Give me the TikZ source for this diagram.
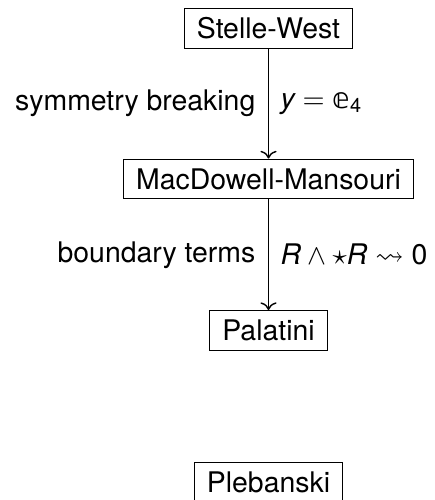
\documentclass[tikz,border=0pt]{standalone}
\usepackage{amsmath,amssymb}
\usepackage{fontspec}
\setmainfont{TeX Gyre Heros}
\newfontfamily\dstruck{DejaVu Sans}
\usetikzlibrary{positioning,arrows.meta}

\tikzset{
  theory/.style={draw, rectangle, inner xsep=4.4pt, inner ysep=3.4pt, text height=7.2pt, text depth=0pt},
  reduce/.style={->, line width=0.5pt},
  lbl/.style={inner sep=0pt},
}

\begin{document}
\begin{tikzpicture}[x=0.352pt, y=-0.352pt]
    \useasboundingbox (0,0) rectangle (434,500);

    % Theories
    \node [theory] (stelle) at (268.5,28.5) {Stelle-West};
    \node [theory] (macdowell) at (268.5,179) {MacDowell-Mansouri};
    \node [theory] (palatini) at (268.5,330.5) {Palatini};
    \node [theory] (plebanski) at (268.5,482) {Plebanski};

    % Reductions
    \draw [reduce] (stelle) -- node [lbl, left=4.4pt] (symbrk) {symmetry breaking}
        node [lbl, right=4pt] (gauge) {$\text{\itshape y} = \text{\dstruck 𝕖}_{\text{4}}$} (macdowell);
    \draw [reduce] (macdowell) -- node [lbl, left=4.4pt] (bdry) {boundary terms}
        node [lbl, right=4pt] (topo) {$\text{\itshape R} \wedge \star\text{\itshape R} \leadsto \text{0}$} (palatini);

\end{tikzpicture}
\end{document}
